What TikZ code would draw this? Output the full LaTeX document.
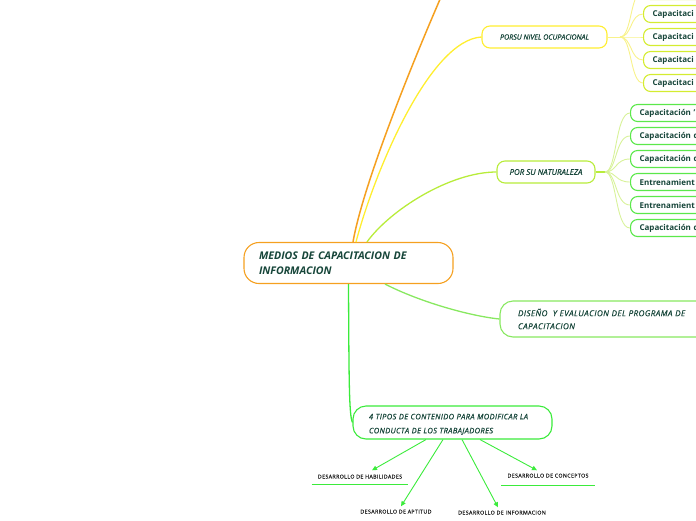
\documentclass[tikz,border=0pt]{standalone}
\usepackage{fontspec}
\setmainfont{Open Sans}
\newfontfamily\medfont[FakeBold=0.6]{Open Sans}
\newfontfamily\spacedfont[LetterSpace=5,FakeBold=0.6]{Open Sans}
\newfontfamily\labfont[LetterSpace=7,FakeBold=0.4]{Open Sans}
\usetikzlibrary{arrows.meta,calc}
\definecolor{corange}{HTML}{F5A020}
\definecolor{cyellow}{HTML}{FFEE30}
\definecolor{cyelpale}{HTML}{F8F28A}
\definecolor{cyelkid}{HTML}{D4EC30}
\definecolor{clime}{HTML}{B8EC3A}
\definecolor{climepale}{HTML}{D8F29A}
\definecolor{cgreenkid}{HTML}{5BE84A}
\definecolor{cdis}{HTML}{88E860}
\definecolor{cgreen}{HTML}{3BEB3B}
\definecolor{ctext}{HTML}{17463A}
\definecolor{clabel}{HTML}{222222}
\begin{document}
\begin{tikzpicture}[x=1pt,y=-1pt,
  topic/.style={draw,line width=1.1pt,fill=white,rounded corners=#1,text=ctext,font=\itshape,inner ysep=0pt},
  kid/.style={draw,line width=1.1pt,fill=white,rounded corners=7pt,text=ctext,font=\fontsize{8}{9}\selectfont\bfseries,
    minimum height=17pt,minimum width=130pt,anchor=west,align=left,text width=112pt,inner xsep=9pt,inner ysep=0pt},
  lab/.style={font=\labfont\fontsize{5.3}{6}\selectfont,text=clabel,inner xsep=6pt,inner ysep=3pt,text height=4pt,text depth=1pt},
  arr/.style={draw=cgreen,line width=0.9pt,-{Triangle[length=5pt,width=4.5pt]}},
  con/.style={line width=1.3pt}]
\useasboundingbox (0,0) rectangle (696,520);

% main node
\node[topic=15pt,draw=corange,minimum width=209pt,minimum height=41pt,inner xsep=15pt,text width=179pt,align=left,
  font=\fontsize{10.6}{15}\selectfont\itshape\bfseries] (main) at (348.5,263) {MEDIOS DE CAPACITACION DE\\INFORMACION};

% first level
\node[topic=8pt,draw=cyellow,minimum width=125pt,minimum height=22pt,font=\medfont\fontsize{7.1}{8}\selectfont\itshape] (pnv) at (544.5,37) {PORSU NIVEL OCUPACIONAL};
\node[topic=8pt,draw=clime,minimum width=98pt,minimum height=22pt,font=\medfont\fontsize{7.9}{9}\selectfont\itshape] (pnt) at (546,172) {POR SU NATURALEZA};
\node[topic=13pt,draw=cdis,minimum width=230pt,minimum height=36pt,inner xsep=18pt,text width=194pt,align=left,
  font=\spacedfont\fontsize{8.1}{13}\selectfont\itshape] (dis) at (615,319) {DISEÑO\ \ Y EVALUACION DEL PROGRAMA DE\\CAPACITACION};
\node[topic=13pt,draw=cgreen,minimum width=199pt,minimum height=33pt,inner xsep=16pt,text width=167pt,align=left,
  font=\spacedfont\fontsize{7.5}{14}\selectfont\itshape] (tip) at (452.5,422.5) {\rule{0pt}{9pt}4 TIPOS DE CONTENIDO PARA MODIFICAR LA\\CONDUCTA DE LOS TRABAJADORES};

% orange branch going off the top
\coordinate (otop) at (441,-3);
\draw[corange,line width=1.5pt] ([xshift=4.5pt]main.north) .. controls (362,190) and (405,80) .. (otop);
\draw[cyellow,con] ([xshift=7.5pt]main.north) .. controls (375,170) and (430,40) .. (pnv.west);
\draw[clime,con] ([xshift=18.5pt]main.north) .. controls (390,210) and (450,172) .. (pnt.west);
\draw[cdis,con] ([xshift=36.5pt]main.south) .. controls (420,302) and (470,316) .. (dis.west);
\draw[cgreen,con] (main.south) .. controls (349,380) and (349,415) .. (tip.west);

% children of PORSU NIVEL OCUPACIONAL
\foreach \i/\y in {1/-9,2/14,3/37,4/60,5/83}{
  \node[kid,draw=cyelkid] (pk\i) at (643,\y) {Capacitaci};
}
\coordinate (pfork) at (620,37);
\draw[cyelpale,line width=1pt] (pnv.east) -- (pfork);
\foreach \i in {1,...,5}{
  \draw[cyelpale,line width=0.9pt] (pfork) .. controls (632,37) and (630,0|-pk\i.west) .. (pk\i.west);
}

% children of POR SU NATURALEZA
\node[kid,draw=cgreenkid] (nk1) at (630,113) {Capacitación '};
\node[kid,draw=cgreenkid] (nk2) at (630,136) {Capacitación d};
\node[kid,draw=cgreenkid] (nk3) at (630,159) {Capacitación d};
\node[kid,draw=cgreenkid] (nk4) at (630,182) {Entrenamient};
\node[kid,draw=cgreenkid] (nk5) at (630,205) {Entrenamient};
\node[kid,draw=cgreenkid] (nk6) at (630,228) {Capacitación d};
\coordinate (nfork) at (605,172);
\draw[clime,line width=1.5pt] (pnt.east) -- (nfork);
\foreach \i in {1,...,6}{
  \draw[climepale,line width=0.9pt] (nfork) .. controls (617,172) and (615,0|-nk\i.west) .. (nk\i.west);
}

% bottom labels
\node[lab] (hab) at (360,477) {DESARROLLO DE HABILIDADES};
\node[lab] (apt) at (396,512) {DESARROLLO DE APTITUD};
\node[lab] (inf) at (502,513) {DESARROLLO DE INFORMACION};
\node[lab] (cpt) at (548,476) {DESARROLLO DE CONCEPTOS};
\draw[cgreen,line width=1.3pt] ([yshift=-2pt]hab.south west) -- ([yshift=-2pt]hab.south east);
\draw[cgreen,line width=1.3pt] ([yshift=-3.5pt]cpt.south west) -- ([yshift=-3.5pt]cpt.south east);

\draw[arr] ([xshift=-26.5pt]tip.south) -- ([xshift=12pt,yshift=1pt]hab.north);
\draw[arr] ([xshift=-9.5pt]tip.south) -- ([xshift=5pt]apt.north);
\draw[arr] ([xshift=9.5pt]tip.south) -- ([xshift=-4pt]inf.north);
\draw[arr] ([xshift=27.5pt]tip.south) -- ([xshift=-11pt]cpt.north);
\end{tikzpicture}
\end{document}
